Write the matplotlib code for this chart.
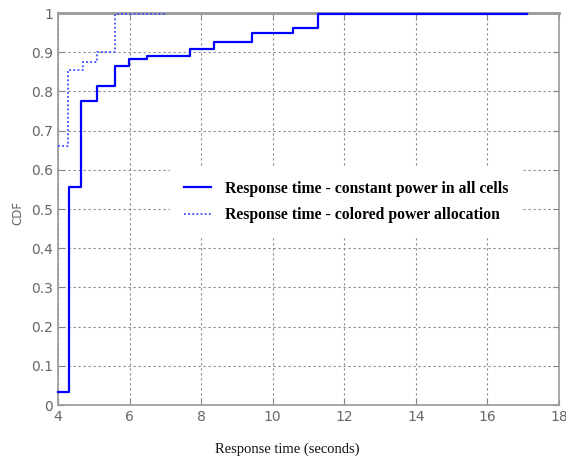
import numpy as np
import matplotlib
matplotlib.use("Agg")
import matplotlib.pyplot as plt

# step CDFs
x_const = [4.0, 4.30, 4.64, 5.09, 5.60, 5.98, 6.49, 7.70, 8.36, 9.43, 10.58, 11.26, 17.1]
y_const = [0.033, 0.555, 0.775, 0.815, 0.865, 0.882, 0.89, 0.908, 0.926, 0.948, 0.961, 0.997, 0.997]
x_col = [4.0, 4.28, 4.70, 5.09, 5.60, 7.05]
y_col = [0.66, 0.855, 0.875, 0.90, 0.997, 0.997]

lab_const = "Response time - constant power in all cells"
lab_col = "Response time - colored power allocation"
xticks = [4, 6, 8, 10, 12, 14, 16, 18]
yticks = [0, 0.1, 0.2, 0.3, 0.4, 0.5, 0.6, 0.7, 0.8, 0.9, 1]
ytlabels = ["0", "0.1", "0.2", "0.3", "0.4", "0.5", "0.6", "0.7", "0.8", "0.9", "1"]

fig = plt.figure(figsize=(5.66, 4.59), dpi=100)
ax = fig.add_axes([0.1025, 0.1176, 0.885, 0.854])

ax.step(x_const, y_const, where="post", color="#0000ff", lw=1.6, label=lab_const,
        clip_on=False, zorder=4)
ax.step(x_col, y_col, where="post", color="#3a4cff", lw=1.3, ls=(0, (1, 1.3)), label=lab_col,
        clip_on=False, zorder=4)

ax.set_xlim(4, 18); ax.set_ylim(0, 1)
ax.set_xticks(xticks); ax.set_yticks(yticks); ax.set_yticklabels(ytlabels)
ax.grid(True, color="#888888", lw=0.8, ls=(0, (2, 2.5)))
ax.tick_params(direction="in", top=True, right=True, length=4, color="#888888",
               labelcolor="#666666", labelsize=10)
for s in ax.spines.values():
    s.set_color("#999999"); s.set_linewidth(1.2)
ax.spines["top"].set_linewidth(2.0)

leg = ax.legend(loc="upper left", bbox_to_anchor=(162/566, 1-159/459), bbox_transform=fig.transFigure,
                prop={"family": "Liberation Serif", "weight": "bold", "size": 11.3},
                frameon=True, fancybox=False, handlelength=1.7, handletextpad=0.9,
                labelspacing=0.65, borderpad=0.9)
leg.get_frame().set_edgecolor("white"); leg.get_frame().set_facecolor("white"); leg.get_frame().set_alpha(1)
leg.set_zorder(5)

fig.text(18/566, 1-213/459, "CDF", rotation=90, ha="center", va="center", fontsize=8.5, color="#666666")
fig.text(287/566, 1-449/459, "Response time (seconds)", ha="center", va="center",
         fontsize=10.5, family="Liberation Serif", color="#111111")

fig.savefig("out.png", dpi=100)
